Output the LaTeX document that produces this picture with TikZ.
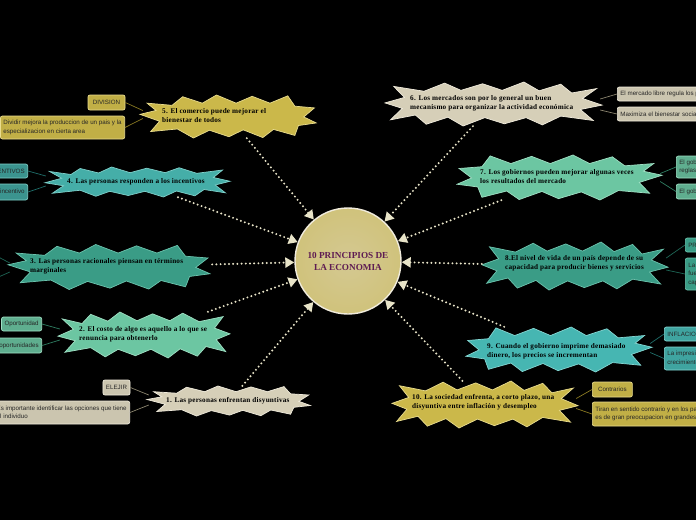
\documentclass[tikz,border=0pt]{standalone}
\usepackage{fontspec}
\setsansfont{Liberation Sans}
\newfontfamily\brfont[LetterSpace=3]{Liberation Serif}
\newfontfamily\cfont{Liberation Serif}
\usetikzlibrary{arrows.meta,calc}
\definecolor{cream}{HTML}{E8E4C8}
\definecolor{beigeF}{HTML}{D6CFB8}\definecolor{beigeE}{HTML}{F0EBDC}
\definecolor{goldF}{HTML}{CBB84A}\definecolor{goldE}{HTML}{E9DC8E}
\definecolor{tealF}{HTML}{45AEA8}\definecolor{tealE}{HTML}{7FD0CA}
\definecolor{greenF}{HTML}{3A9C86}\definecolor{greenE}{HTML}{6CC4AE}
\definecolor{mintF}{HTML}{6CC6A2}\definecolor{mintE}{HTML}{A0E0C4}
\definecolor{aquaF}{HTML}{46B6B2}\definecolor{aquaE}{HTML}{84D6D2}
\definecolor{purp}{HTML}{5E1B52}
\definecolor{goldL}{HTML}{8A7A22}\definecolor{beigeL}{HTML}{8A846E}
\definecolor{tealL}{HTML}{1F6E6A}\definecolor{greenL}{HTML}{1E6656}
\definecolor{mintL}{HTML}{2F7E62}
\def\jagA{(-1.00,0.05) -- (-0.80,0.25) -- (-0.92,0.75) -- (-0.62,0.55) -- (-0.45,0.95) -- (-0.30,0.62) -- (-0.10,0.90) -- (0.08,0.62) -- (0.28,1.00) -- (0.42,0.60) -- (0.62,0.92) -- (0.72,0.50) -- (0.95,0.72) -- (0.84,0.20) -- (1.00,-0.05) -- (0.82,-0.30) -- (0.92,-0.80) -- (0.64,-0.58) -- (0.45,-0.95) -- (0.30,-0.62) -- (0.10,-0.92) -- (-0.08,-0.62) -- (-0.28,-1.00) -- (-0.42,-0.60) -- (-0.62,-0.90) -- (-0.72,-0.50) -- (-0.95,-0.70) -- (-0.82,-0.25) -- cycle}
\def\jagB{(-1.00,-0.10) -- (-0.78,0.22) -- (-0.88,0.70) -- (-0.58,0.58) -- (-0.40,1.00) -- (-0.22,0.64) -- (0.00,0.94) -- (0.16,0.62) -- (0.38,0.98) -- (0.50,0.60) -- (0.74,0.88) -- (0.78,0.42) -- (0.98,0.30) -- (0.84,0.02) -- (0.96,-0.40) -- (0.74,-0.48) -- (0.66,-0.96) -- (0.46,-0.62) -- (0.26,-0.94) -- (0.08,-0.62) -- (-0.14,-1.00) -- (-0.30,-0.62) -- (-0.52,-0.92) -- (-0.64,-0.52) -- (-0.92,-0.62) -- (-0.82,-0.28) -- cycle}
% name, cx, cy, W, H, style, template
\newcommand\burstshape[7]{%
  \begin{scope}[shift={(#2,#3)}]
    \filldraw[line width=0.7pt,#6,xscale=#4/2,yscale=#5/2] #7;
  \end{scope}
  \node[minimum width=#4,minimum height=#5,inner sep=0pt] (#1) at (#2,#3) {};
}
\tikzset{
  btext/.style={anchor=west,align=left,inner sep=0pt,text=black,font=\brfont\bfseries\fontsize{7.2}{9}\selectfont},
  dotline/.style={draw=cream,line width=2.2pt,dash pattern=on 0pt off 4.2pt,line cap=round,
    -{Triangle[width=10pt,length=9pt,fill=cream,line cap=butt]}},
  leaf/.style={rounded corners=2pt,inner xsep=3pt,inner ysep=1.5pt,line width=0.7pt,align=left,
    text=black!85,font=\sffamily\fontsize{6.2}{8.5}\selectfont},
  goldleaf/.style={leaf,fill=goldF!95!black,draw=goldE},
  beigeleaf/.style={leaf,fill=beigeF!95!black,draw=beigeE},
  tealleaf/.style={leaf,fill=tealF!85!black,draw=tealE},
  greenleaf/.style={leaf,fill=greenF,draw=greenE},
  mintleaf/.style={leaf,fill=mintF!88!black,draw=mintE},
  aqualeaf/.style={leaf,fill=aquaF!90!black,draw=aquaE},
  lline/.style={draw=#1,line width=0.7pt}
}
\begin{document}
\begin{tikzpicture}[x=1pt,y=-1pt]
\useasboundingbox (0,0) rectangle (696,520);
\fill[black] (0,0) rectangle (696,520);

% centre
\node[circle,minimum size=106pt,inner sep=0pt,draw=beigeE,line width=1.4pt,
  inner color=goldF!40!beigeF!95!white,outer color=goldF!55!beigeF,
  text=purp,align=center,font=\cfont\bfseries\fontsize{9.2}{12}\selectfont] (c) at (348,261)
  {10 PRINCIPIOS DE\\LA ECONOMIA};

% branch shapes
\burstshape{n1}{229.5}{401}{165}{30}{fill=beigeF,draw=beigeE}{\jagB}
\burstshape{n2}{144}{335}{172}{46}{fill=mintF,draw=mintE}{\jagA}
\burstshape{n3}{110}{267}{204}{45}{fill=greenF,draw=greenE}{\jagB}
\burstshape{n4}{137.5}{182}{185}{30}{fill=tealF,draw=tealE}{\jagA}
\burstshape{n5}{229}{116.5}{178}{43}{fill=goldF,draw=goldE}{\jagB}
\burstshape{n6}{493.5}{104}{217}{44}{fill=beigeF,draw=beigeE,xscale=-1}{\jagA}
\burstshape{n7}{558.5}{177.5}{207}{45}{fill=mintF,draw=mintE,xscale=-1}{\jagB}
\burstshape{n8}{575}{266}{186}{48}{fill=greenF,draw=greenE,xscale=-1}{\jagA}
\burstshape{n9}{558}{349.5}{188}{45}{fill=aquaF,draw=aquaE,xscale=-1}{\jagB}
\burstshape{n10}{485}{404.5}{186}{47}{fill=goldF,draw=goldE,xscale=-1}{\jagA}

% branch texts
\node[btext] (t1) at (166,401) {1. Las personas enfrentan disyuntivas};
\node[btext] (t2) at (79,334.5) {2. El costo de algo es aquello a lo que se\\renuncia para obtenerlo};
\node[btext] (t3) at (30,266.5) {3. Las personas racionales piensan en términos\\marginales};
\node[btext] (t4) at (67,182) {4. Las personas responden a los incentivos};
\node[btext] (t5) at (162,115.5) {5. El comercio puede mejorar el\\bienestar de todos};
\node[btext] (t6) at (410,103.5) {6. Los mercados son por lo general un buen\\mecanismo para organizar la actividad económica};
\node[btext] (t7) at (480,176.5) {7. Los gobiernos pueden mejorar algunas veces\\los resultados del mercado};
\node[btext] (t8) at (505,263.5) {8.El nivel de vida de un país depende de su\\capacidad para producir bienes y servicios};
\node[btext] (t9) at (487,351.5) {9. Cuando el gobierno imprime demasiado\\dinero, los precios se incrementan};
\node[btext] (t10) at (412,402.5) {10. La sociedad enfrenta, a corto plazo, una\\disyuntiva entre inflación y desempleo};

% centre connectors
\foreach \n in {n1,n2,n3,n4,n5,n6,n7,n8,n9,n10}{
  \draw[dotline] (\n) -- (c);
}

% leaves
\node[goldleaf,minimum width=37pt,minimum height=15pt,align=center] (l5a) at (106.5,102.5) {DIVISION};
\node[goldleaf,minimum height=23pt,anchor=east] (l5b) at (125,127.5) {Dividir mejora la produccion de un pais y la\\especializacion en cierta area};
\node[tealleaf,minimum height=14pt,anchor=east] (l4a) at (28,171) {INCENTIVOS};
\node[tealleaf,minimum height=16pt,anchor=east] (l4b) at (28,192) {Respuesta a un incentivo};
\node[mintleaf,minimum height=14pt,anchor=east] (l2a) at (42,324) {Oportunidad};
\node[mintleaf,minimum height=15pt,anchor=east] (l2b) at (42,345.5) {Costo de oportunidades};
\node[beigeleaf,minimum width=27pt,minimum height=15pt,align=center] (l1a) at (116.5,387.5) {ELEJIR};
\node[beigeleaf,minimum height=23pt,anchor=east] (l1b) at (130,412.5) {Es importante identificar las opciones que tiene\\el individuo};
\node[beigeleaf,minimum height=14pt,anchor=west] (l6a) at (617,94) {El mercado libre regula los precios};
\node[beigeleaf,minimum height=14pt,anchor=west] (l6b) at (617,114) {Maximiza el bienestar social};
\node[mintleaf,minimum height=22pt,anchor=west] (l7a) at (676,167) {El gobierno establece\\reglas};
\node[mintleaf,minimum height=15pt,anchor=west] (l7b) at (676,191.5) {El gobierno interviene};
\node[greenleaf,minimum height=14pt,anchor=west] (l8a) at (685,245) {PRODUCTIVIDAD};
\node[greenleaf,minimum height=32pt,anchor=west] (l8b) at (685,274) {La productividad es la\\fuente principal de la\\capacidad};
\node[aqualeaf,minimum height=14pt,anchor=west] (l9a) at (664,334) {INFLACION};
\node[aqualeaf,minimum height=23pt,anchor=west] (l9b) at (664,358.5) {La impresión de dinero\\crecimiento de precios};
\node[goldleaf,minimum width=40pt,minimum height=15pt,anchor=west] (l10a) at (592,389.5) {Contrarios};
\node[goldleaf,minimum height=24pt,anchor=west] (l10b) at (592,414) {Tiran en sentido contrario y en los países\\es de gran preocupacion en grandes economías};
\coordinate (l3a) at (-15,250);
\coordinate (l3b) at (-15,283);

% leaf connectors
\draw[lline=goldL] ($(n5.west)+(3,-6)$) -- (l5a.east);
\draw[lline=goldL] ($(n5.west)+(3,2)$) -- (l5b.east);
\draw[lline=tealL] ($(n4.west)+(1,-6)$) -- (l4a.east);
\draw[lline=tealL] ($(n4.west)+(1,4)$) -- (l4b.east);
\draw[lline=greenL] ($(n3.west)+(2,-4)$) -- (l3a);
\draw[lline=greenL] ($(n3.west)+(2,5)$) -- (l3b);
\draw[lline=mintL] ($(n2.west)+(2,-6)$) -- (l2a.east);
\draw[lline=mintL] ($(n2.west)+(2,5)$) -- (l2b.east);
\draw[lline=beigeL] ($(n1.west)+(2,-6)$) -- (l1a.east);
\draw[lline=beigeL] ($(n1.west)+(2,4)$) -- (l1b.east);
\draw[lline=beigeL] ($(n6.east)+(-2,-5)$) -- (l6a.west);
\draw[lline=beigeL] ($(n6.east)+(-2,6)$) -- (l6b.west);
\draw[lline=mintL] ($(n7.east)+(-2,-4)$) -- (l7a.west);
\draw[lline=mintL] ($(n7.east)+(-2,4)$) -- (l7b.west);
\draw[lline=greenL] ($(n8.east)+(-2,-8)$) -- (l8a.west);
\draw[lline=greenL] ($(n8.east)+(-2,4)$) -- (l8b.west);
\draw[lline=tealL] ($(n9.east)+(-2,-6)$) -- (l9a.west);
\draw[lline=tealL] ($(n9.east)+(-2,3)$) -- (l9b.west);
\draw[lline=goldL] ($(n10.east)+(-2,-6)$) -- (l10a.west);
\draw[lline=goldL] ($(n10.east)+(-2,4)$) -- (l10b.west);
\end{tikzpicture}
\end{document}
